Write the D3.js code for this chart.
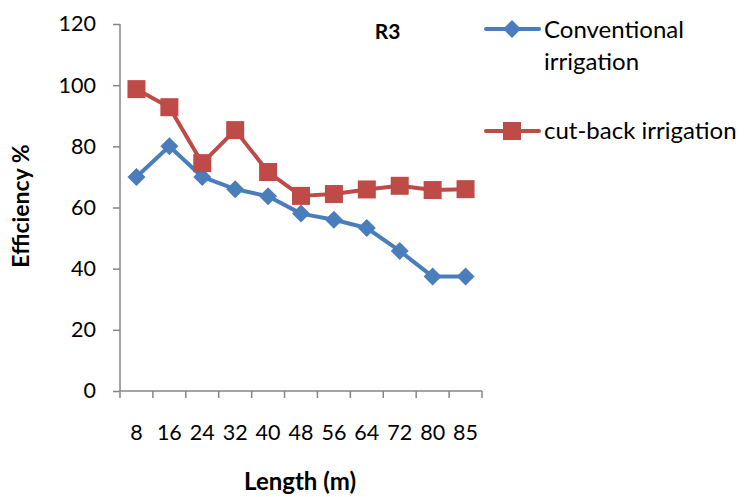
<!DOCTYPE html>
<html>
<head>
<meta charset="utf-8">
<script src="https://cdn.jsdelivr.net/npm/d3@7"></script>
<style>
  body { margin: 0; background: #fff; }
  text { font-family: Lato, "Open Sans", sans-serif; fill: #000; }
</style>
</head>
<body>
<div id="chart"></div>
<script>
const lengths = ['8', '16', '24', '32', '40', '48', '56', '64', '72', '80', '85'];
const conventional = [70, 80, 70, 66, 63.7, 58, 56, 53.3, 45.8, 37.4, 37.4];
const cutBack = [98.7, 92.8, 74.5, 85.3, 71.6, 63.8, 64.4, 65.9, 67.1, 65.7, 66];
const yTicks = [0, 20, 40, 60, 80, 100, 120];

const width = 744, height = 497;
const margin = {top: 24, right: 262, bottom: 106, left: 120};

const svg = d3.select('#chart')
  .append('svg')
  .attr('width', width)
  .attr('height', height);

const g = svg.append('g')
  .attr('transform', 'translate(' + margin.left + ',' + margin.top + ')');

const innerW = width - margin.left - margin.right;
const innerH = height - margin.top - margin.bottom;

const x = d3.scaleBand().domain(lengths).range([0, innerW]);
const y = d3.scaleLinear().domain([0, 120]).range([innerH, 0]);

const axisColor = '#868686';

// y axis
const yAxis = g.append('g')
  .call(d3.axisLeft(y).tickValues(yTicks).tickSize(7).tickPadding(17));
yAxis.selectAll('line, path').attr('stroke', axisColor).attr('stroke-width', 1.5);
yAxis.select('.domain').attr('d', 'M0,0V' + innerH);
yAxis.selectAll('text').attr('font-size', 21.5).attr('font-family', 'Lato, sans-serif');

// x axis, ticks on band boundaries
const xAxis = g.append('g')
  .attr('transform', 'translate(0,' + innerH + ')');
xAxis.append('path')
  .attr('d', 'M0,0H' + innerW)
  .attr('stroke', axisColor)
  .attr('stroke-width', 1.5);
xAxis.selectAll('.tk')
  .data(lengths.concat(['end']))
  .enter()
  .append('line')
  .attr('x1', (d, i) => i * x.step())
  .attr('x2', (d, i) => i * x.step())
  .attr('y1', 0)
  .attr('y2', 7)
  .attr('stroke', axisColor)
  .attr('stroke-width', 1.5);
xAxis.selectAll('.lbl')
  .data(lengths)
  .enter()
  .append('text')
  .attr('x', d => x(d) + x.bandwidth() / 2)
  .attr('y', 49)
  .attr('text-anchor', 'middle')
  .attr('font-size', 21.5)
  .text(d => d);

const cx = (d, i) => x(lengths[i]) + x.bandwidth() / 2;

const line = d3.line()
  .x((d, i) => cx(d, i))
  .y(d => y(d));

const blue = '#4A7EBB';
const red = '#BE4B48';

g.append('path')
  .attr('d', line(conventional))
  .attr('fill', 'none')
  .attr('stroke', blue)
  .attr('stroke-width', 4)
  .attr('stroke-linejoin', 'round');

g.append('path')
  .attr('d', line(cutBack))
  .attr('fill', 'none')
  .attr('stroke', red)
  .attr('stroke-width', 4)
  .attr('stroke-linejoin', 'round');

const diamond = 'M0,-9L9,0L0,9L-9,0Z';

g.selectAll('.dia')
  .data(conventional)
  .enter()
  .append('path')
  .attr('d', diamond)
  .attr('transform', (d, i) => 'translate(' + cx(d, i) + ',' + y(d) + ')')
  .attr('fill', blue);

g.selectAll('.sq')
  .data(cutBack)
  .enter()
  .append('rect')
  .attr('x', (d, i) => cx(d, i) - 9)
  .attr('y', d => y(d) - 9)
  .attr('width', 18)
  .attr('height', 18)
  .attr('fill', red);

// title
svg.append('text')
  .attr('x', 387.5)
  .attr('y', 39)
  .attr('text-anchor', 'middle')
  .attr('font-size', 21)
  .attr('font-weight', 'bold')
  .text('R3');

// axis titles
svg.append('text')
  .attr('transform', 'translate(29,206) rotate(-90)')
  .attr('text-anchor', 'middle')
  .attr('font-size', 23)
  .attr('font-weight', 'bold')
  .text('Efficiency %');

svg.append('text')
  .attr('x', 300)
  .attr('y', 490)
  .attr('text-anchor', 'middle')
  .attr('font-size', 24)
  .attr('font-weight', 'bold')
  .text('Length (m)');

// legend
const legend = svg.append('g');
legend.append('line')
  .attr('x1', 486).attr('x2', 539).attr('y1', 29).attr('y2', 29)
  .attr('stroke', blue).attr('stroke-width', 4).attr('stroke-linecap', 'round');
legend.append('path')
  .attr('d', diamond)
  .attr('transform', 'translate(512,29)')
  .attr('fill', blue);
legend.append('text')
  .attr('x', 544).attr('y', 38)
  .attr('font-size', 24)
  .text('Conventional');
legend.append('text')
  .attr('x', 544).attr('y', 70)
  .attr('font-size', 24)
  .text('irrigation');

legend.append('line')
  .attr('x1', 486).attr('x2', 539).attr('y1', 131).attr('y2', 131)
  .attr('stroke', red).attr('stroke-width', 4).attr('stroke-linecap', 'round');
legend.append('rect')
  .attr('x', 503).attr('y', 122).attr('width', 18).attr('height', 18)
  .attr('fill', red);
legend.append('text')
  .attr('x', 544).attr('y', 139)
  .attr('font-size', 24)
  .text('cut-back irrigation');
</script>
</body>
</html>
